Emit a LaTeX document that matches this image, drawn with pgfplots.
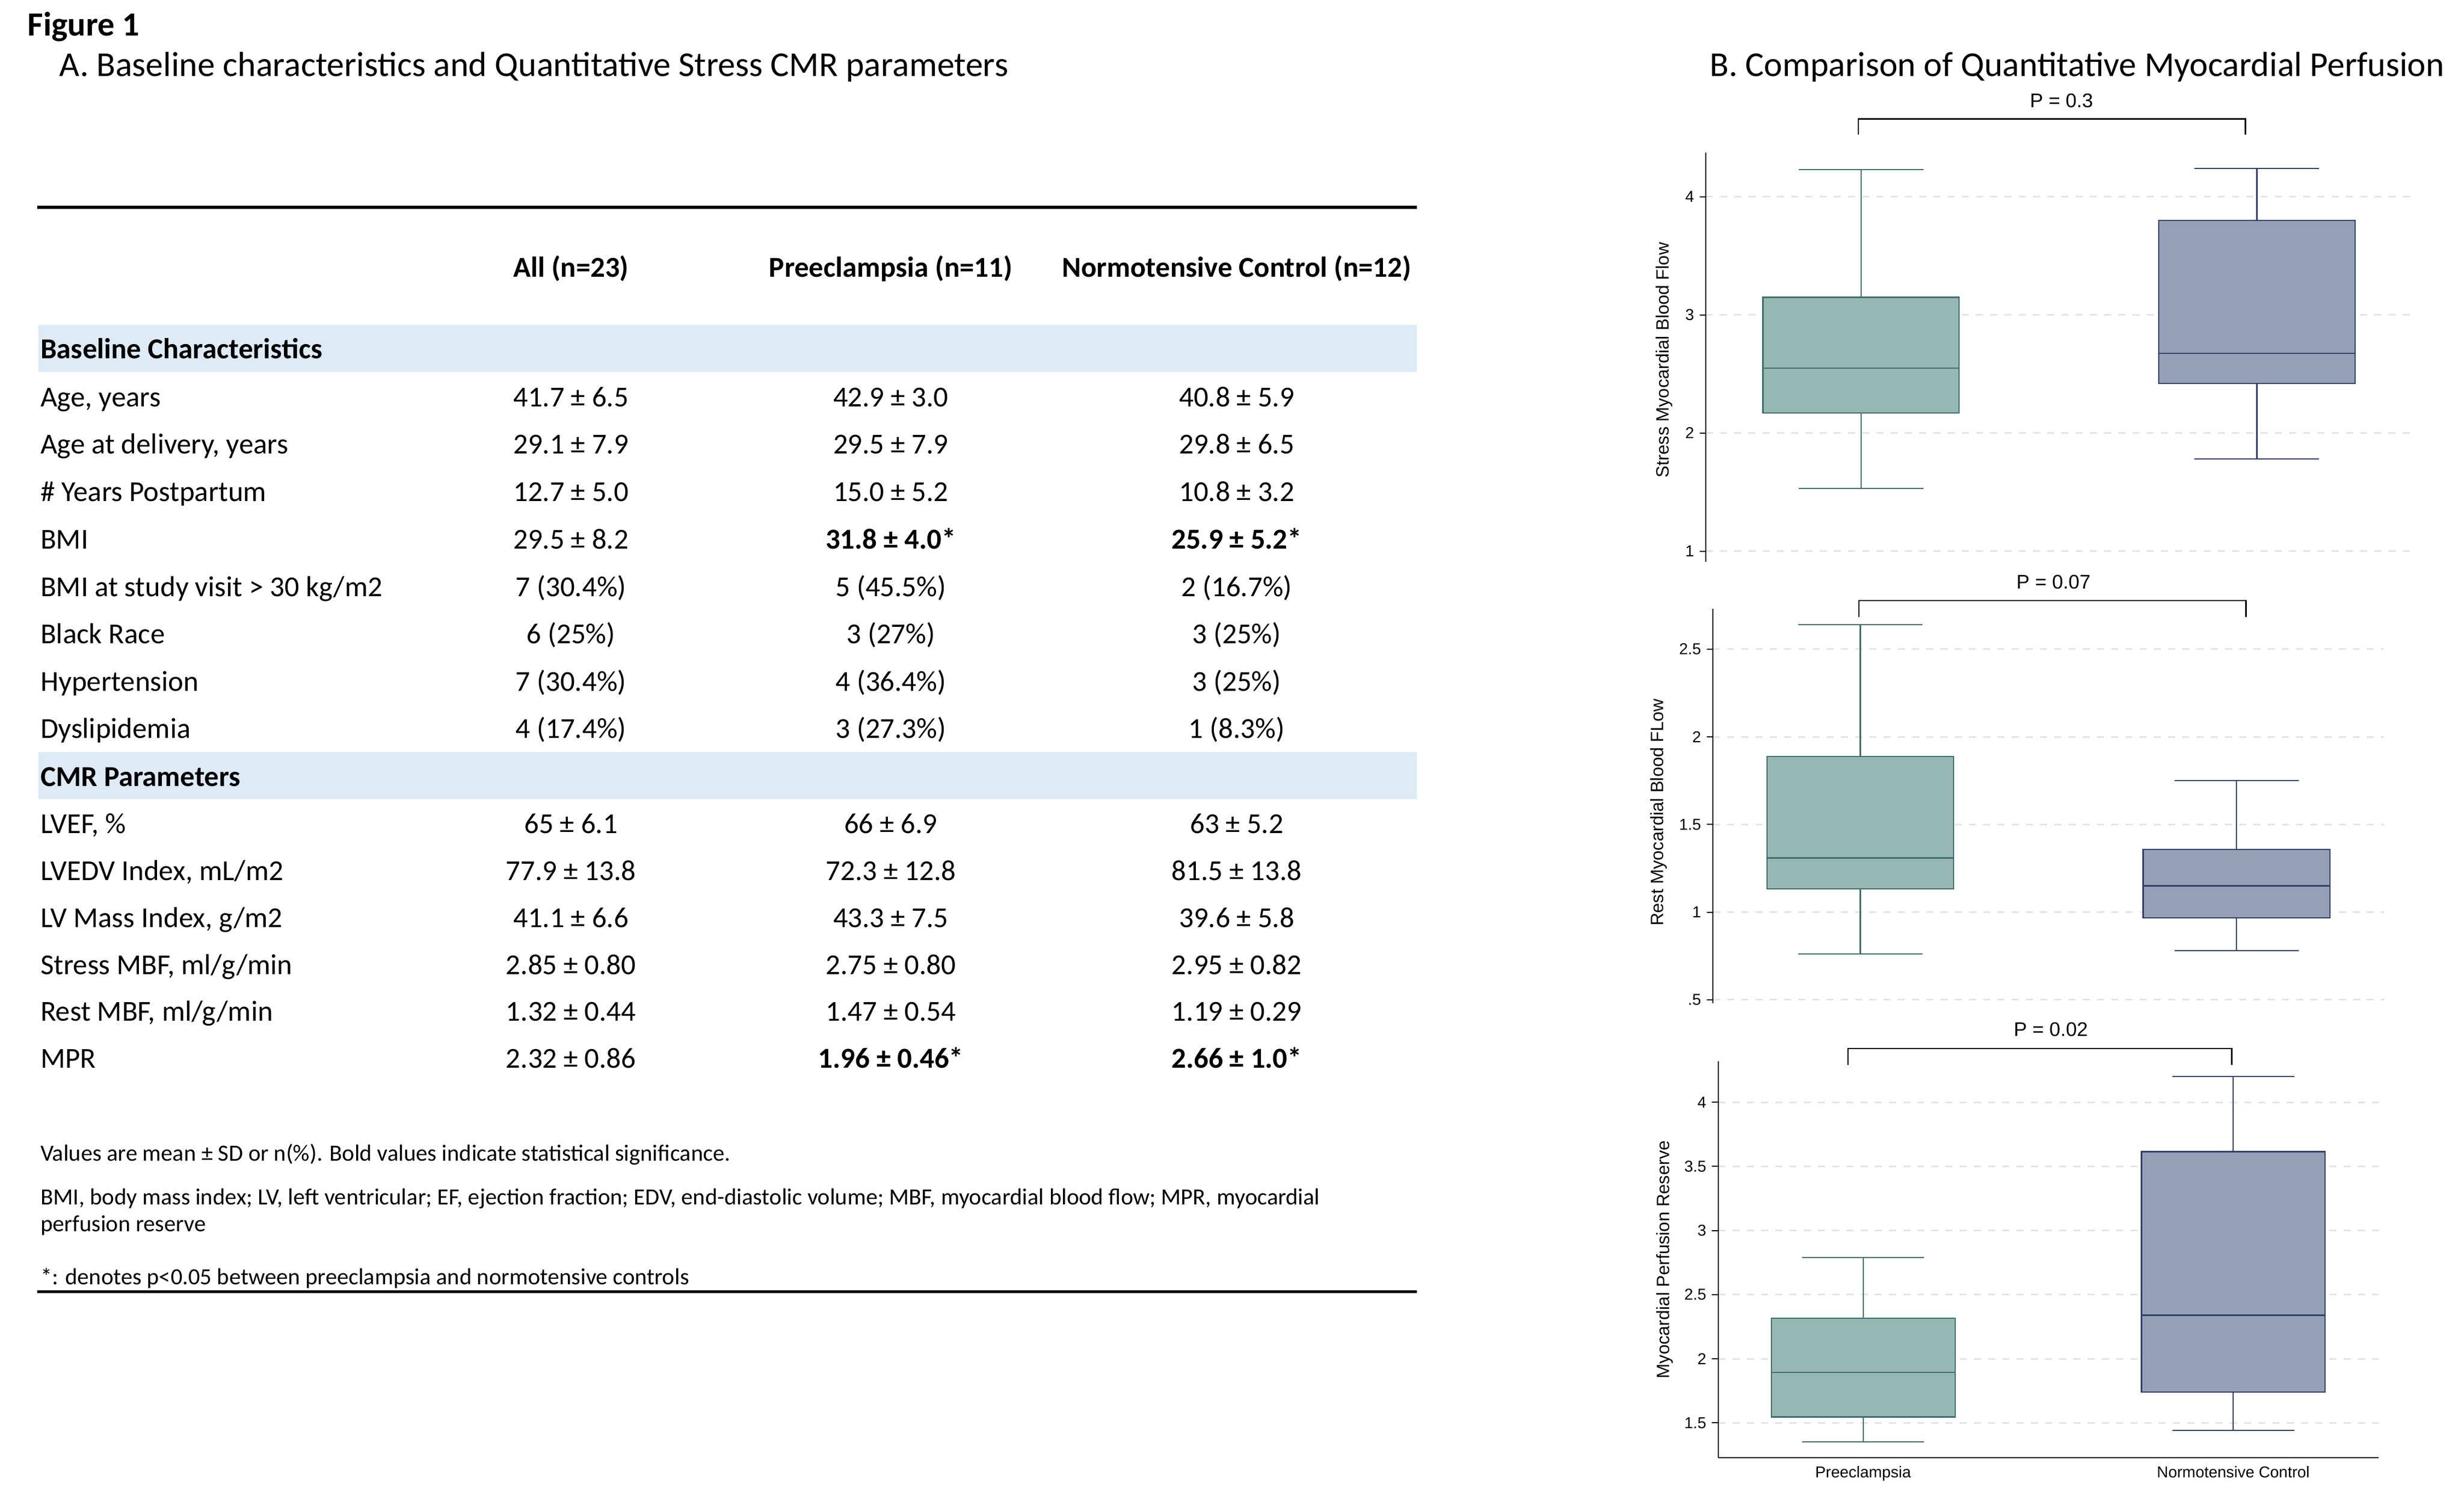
\documentclass[border=0pt]{standalone}
\usepackage{fontspec}
\setmainfont{Carlito}
\newfontfamily\arialf{Liberation Sans}
\usepackage{pgfplots}
\pgfplotsset{compat=1.18}
\usepgfplotslibrary{statistics}
\definecolor{bandblue}{HTML}{DEEAF6}
\definecolor{tealfill}{HTML}{97B7B4}
\definecolor{tealline}{HTML}{3D6E69}
\definecolor{bluefill}{HTML}{95A0B8}
\definecolor{blueline}{HTML}{2E3F66}
\definecolor{gridgray}{HTML}{E4E4E4}
\newcommand{\trow}[5]{%
  \node[anchor=base west,inner sep=0] at (25.5,#1) {#2};
  \node[anchor=base,inner sep=0] at (361.5,#1) {#3};
  \node[anchor=base,inner sep=0] at (564,#1) {#4};
  \node[anchor=base,inner sep=0] at (783,#1) {#5};}
\pgfplotsset{
  mybox/.style={
    scale only axis, xmin=0.6084, xmax=2.392,
    axis y line*=left,
    ymajorgrids, grid style={gridgray, dash pattern=on 4.5pt off 4.5pt, line width=1pt},
    tick align=outside, major tick length=4pt,
    ytick style={black, line width=0.7pt},
    axis line style={black, line width=0.7pt},
    yticklabel style={font=\fontsize{10}{12}\selectfont\arialf},
    xticklabel style={font=\fontsize{10}{12}\selectfont\arialf},
    ylabel style={font=\fontsize{11.3}{13}\selectfont\arialf, anchor=center},
    clip=false,
    boxplot/draw direction=y,
  },
  prebox/.style={draw=tealline, fill=tealfill, line width=0.8pt, solid},
  nbox/.style={draw=blueline, fill=bluefill, line width=0.8pt, solid},
}
\begin{document}
\begin{tikzpicture}[x=1pt,y=1pt]
\path[use as bounding box] (0,0) rectangle (1560,947);
% titles
\node[anchor=base west, inner sep=0, font=\fontsize{21.5}{24}\selectfont\bfseries] at (17.3,924.3) {Figure 1};
\node[anchor=base west, inner sep=0, font=\fontsize{22.1}{26}\selectfont] at (37.5,898.7) {A. Baseline characteristics and Quantitative Stress CMR parameters};
\node[anchor=base west, inner sep=0, font=\fontsize{22.1}{26}\selectfont] at (1082.3,898.7) {B. Comparison of Quantitative Myocardial Perfusion};
% table
\fill[bandblue] (24.3,711.6) rectangle (897,741.4);
\fill[bandblue] (24.3,441.0) rectangle (897,470.8);
\draw[line width=1.8pt] (23.7,815.7) -- (897,815.7);
\draw[line width=1.8pt] (23.7,129) -- (897,129);
\begin{scope}[every node/.style={font=\fontsize{18.3}{22}\selectfont}]
\trow{771.5}{}{\textbf{All (n=23)}}{\textbf{Preeclampsia (n=11)}}{\textbf{Normotensive Control (n=12)}}
\node[anchor=base west,inner sep=0] at (25.5,719.8) {\textbf{Baseline Characteristics}};
\trow{689.6}{Age, years}{41.7 ± 6.5}{42.9 ± 3.0}{40.8 ± 5.9}
\trow{659.55}{Age at delivery, years}{29.1 ± 7.9}{29.5 ± 7.9}{29.8 ± 6.5}
\trow{629.5}{\# Years Postpartum}{12.7 ± 5.0}{15.0 ± 5.2}{10.8 ± 3.2}
\trow{599.45}{BMI}{29.5 ± 8.2}{\textbf{31.8 ± 4.0*}}{\textbf{25.9 ± 5.2*}}
\trow{569.4}{BMI at study visit > 30 kg/m2}{7 (30.4\%)}{5 (45.5\%)}{2 (16.7\%)}
\trow{539.35}{Black Race}{6 (25\%)}{3 (27\%)}{3 (25\%)}
\trow{509.3}{Hypertension}{7 (30.4\%)}{4 (36.4\%)}{3 (25\%)}
\trow{479.5}{Dyslipidemia}{4 (17.4\%)}{3 (27.3\%)}{1 (8.3\%)}
\node[anchor=base west,inner sep=0] at (25.5,449.2) {\textbf{CMR Parameters}};
\trow{419.15}{LVEF, \%}{65 ± 6.1}{66 ± 6.9}{63 ± 5.2}
\trow{389.45}{LVEDV Index, mL/m2}{77.9 ± 13.8}{72.3 ± 12.8}{81.5 ± 13.8}
\trow{359.75}{LV Mass Index, g/m2}{41.1 ± 6.6}{43.3 ± 7.5}{39.6 ± 5.8}
\trow{330.05}{Stress MBF, ml/g/min}{2.85 ± 0.80}{2.75 ± 0.80}{2.95 ± 0.82}
\trow{300.35}{Rest MBF, ml/g/min}{1.32 ± 0.44}{1.47 ± 0.54}{1.19 ± 0.29}
\trow{270.65}{MPR}{2.32 ± 0.86}{\textbf{1.96 ± 0.46*}}{\textbf{2.66 ± 1.0*}}
\end{scope}
\begin{scope}[every node/.style={font=\fontsize{14.7}{17}\selectfont, anchor=base west, inner sep=0}]
\node at (25.5,212) {Values are mean ± SD or n(\%). Bold values indicate statistical significance.};
\node at (25.5,184) {BMI, body mass index; LV, left ventricular; EF, ejection fraction; EDV, end-diastolic volume; MBF, myocardial blood flow; MPR, myocardial};
\node at (25.5,167) {perfusion reserve};
\node at (25.5,133.5) {*: denotes p<0.05 between preeclampsia and normotensive controls};
\end{scope}
% brackets and p values
\begin{scope}[line width=0.8pt]
\draw (1176.6,861.8) -- (1176.6,871.7) -- (1421.6,871.7) -- (1421.6,861.8);
\draw (1176.9,556.4) -- (1176.9,566.6) -- (1422,566.6) -- (1422,556.4);
\draw (1169.9,272.6) -- (1169.9,283) -- (1413,283) -- (1413,272.6);
\end{scope}
\begin{scope}[every node/.style={font=\fontsize{12.5}{14}\selectfont\arialf, anchor=base, inner sep=0}]
\node at (1305.2,878.9) {P = 0.3};
\node at (1300.1,574.1) {P = 0.07};
\node at (1298.4,290.8) {P = 0.02};
\end{scope}
% plot 1
\begin{axis}[mybox, axis x line=none, at={(1080.1pt,591.2pt)}, anchor=south west,
  width=447pt, height=259.3pt, ymin=0.91, ymax=4.376,
  ytick={1,2,3,4}, yticklabels={1,2,3,4},
  ylabel={Stress Myocardial Blood Flow},
  ylabel style={at={(axis description cs:-0.0593,0.493)}}]
\addplot[prebox, boxplot prepared={draw position=1, lower whisker=1.53, lower quartile=2.17, median=2.55, upper quartile=3.15, upper whisker=4.23, box extend=0.496, whisker extend=0.315}] coordinates {};
\addplot[nbox, boxplot prepared={draw position=2, lower whisker=1.78, lower quartile=2.42, median=2.675, upper quartile=3.80, upper whisker=4.24, box extend=0.496, whisker extend=0.315}] coordinates {};
\end{axis}
% plot 2
\begin{axis}[mybox, axis x line=none, at={(1084.5pt,311.7pt)}, anchor=south west,
  width=424.8pt, height=249.75pt, ymin=0.48, ymax=2.73,
  ytick={0.5,1,1.5,2,2.5}, yticklabels={.5,1,1.5,2,2.5},
  ylabel={Rest Myocardial Blood FLow},
  ylabel style={at={(axis description cs:-0.0805,0.484)}}]
\addplot[prebox, boxplot prepared={draw position=1, lower whisker=0.762, lower quartile=1.133, median=1.309, upper quartile=1.887, upper whisker=2.64, box extend=0.4965, whisker extend=0.33}] coordinates {};
\addplot[nbox, boxplot prepared={draw position=2, lower whisker=0.781, lower quartile=0.968, median=1.15, upper quartile=1.357, upper whisker=1.751, box extend=0.4965, whisker extend=0.33}] coordinates {};
\end{axis}
% plot 3
\begin{axis}[mybox, axis x line*=bottom, at={(1087.8pt,24pt)}, anchor=south west,
  width=418pt, height=251pt, ymin=1.229, ymax=4.32,
  xtick={1,2}, xticklabels={Preeclampsia,Normotensive Control},
  xtick style={draw=none}, xticklabel style={yshift=2pt},
  ytick={1.5,2,2.5,3,3.5,4}, yticklabels={1.5,2,2.5,3,3.5,4},
  ylabel={Myocardial Perfusion Reserve},
  ylabel style={at={(axis description cs:-0.081,0.4996)}}]
\addplot[prebox, boxplot prepared={draw position=1, lower whisker=1.351, lower quartile=1.546, median=1.893, upper quartile=2.315, upper whisker=2.79, box extend=0.4965, whisker extend=0.33}] coordinates {};
\addplot[nbox, boxplot prepared={draw position=2, lower whisker=1.441, lower quartile=1.741, median=2.339, upper quartile=3.615, upper whisker=4.2, box extend=0.4965, whisker extend=0.33}] coordinates {};
\end{axis}
\end{tikzpicture}
\end{document}
